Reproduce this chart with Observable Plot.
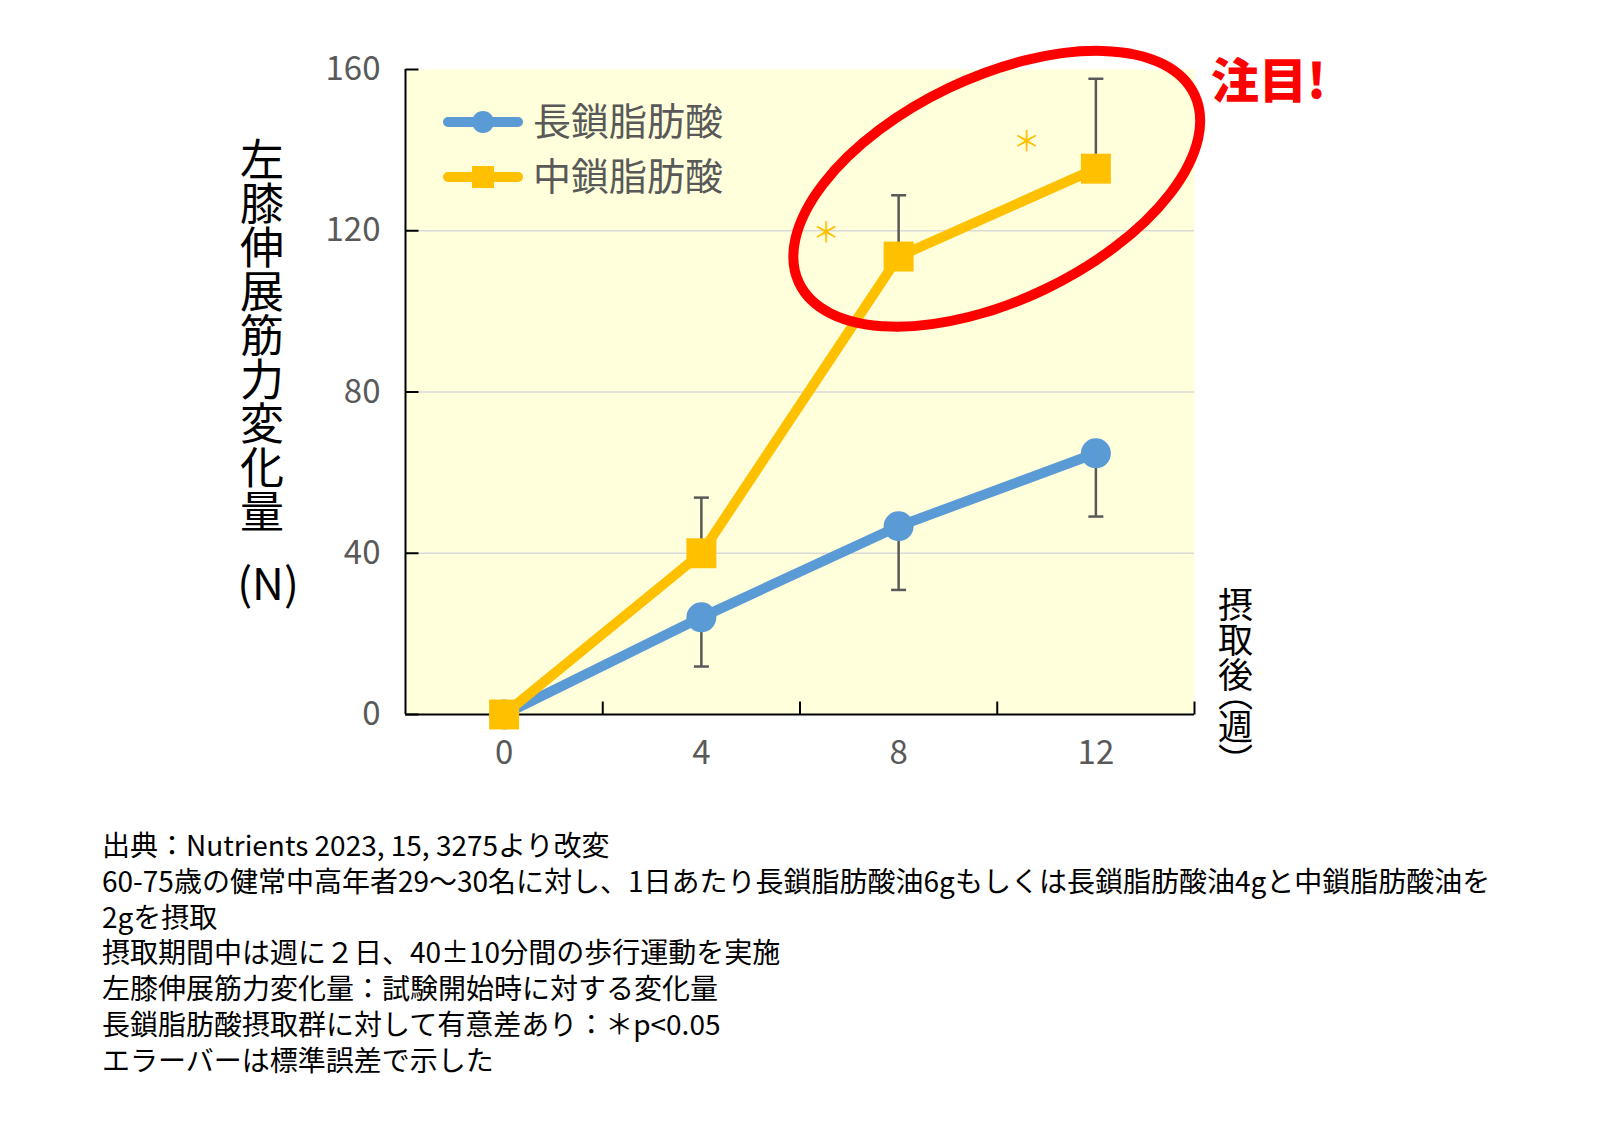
<!DOCTYPE html>
<html><head><meta charset="utf-8">
<script src="https://cdn.jsdelivr.net/npm/d3@7"></script>
<script src="https://cdn.jsdelivr.net/npm/@observablehq/plot@0.6"></script>
<style>
body{margin:0;background:#fff;font-family:'Noto Sans CJK JP','Noto Sans',sans-serif;}
#wrap{position:relative;width:1600px;height:1138px;overflow:hidden;background:#fff;}
#wrap svg.chart{position:absolute;left:0;top:0;}
.abs{position:absolute;white-space:nowrap;}
</style></head><body><div id="wrap"></div><script>
// ---- data ----
const weeks = [0, 4, 8, 12];
const lcfaMean = [0, 24.1, 46.7, 64.8];
const lcfaSE = [0, 12.2, 15.8, 15.7];
const mcfaMean = [0, 40.0, 113.6, 135.4];
const mcfaSE = [0, 13.8, 15.2, 22.3];
const seriesNames = ["長鎖脂肪酸", "中鎖脂肪酸"];
const seriesColors = ["#5B9BD5", "#FFC000"];
const yTicks = [0, 40, 80, 120, 160];
const gridValues = [40, 80, 120];
const xTickLabels = [0, 4, 8, 12];
const xTickMarks = [2, 6, 10, 14];
const xDomain = [-2, 14];
const yDomain = [0, 160];
const sigMarks = [{week: 6.53, value: 119.3}, {week: 10.6, value: 141.7}];
const highlight = {week: 10.0, value: 130.3, rx: 219, ry: 111.5, angle: -25.5};
const yTitle = "左膝伸展筋力変化量";
const yUnit = "(N)";
const xTitle = "摂取後（週）";
const calloutText = "注目!";
const captionLines = [
  "出典：Nutrients 2023, 15, 3275より改変",
  "60-75歳の健常中高年者29～30名に対し、1日あたり長鎖脂肪酸油6gもしくは長鎖脂肪酸油4gと中鎖脂肪酸油を",
  "2gを摂取",
  "摂取期間中は週に２日、40±10分間の歩行運動を実施",
  "左膝伸展筋力変化量：試験開始時に対する変化量",
  "長鎖脂肪酸摂取群に対して有意差あり：＊p<0.05",
  "エラーバーは標準誤差で示した"
];

// ---- build tables ----
const lcfaRows = weeks.map((w, i) => ({week: w, value: lcfaMean[i], se: lcfaSE[i]}));
const mcfaRows = weeks.map((w, i) => ({week: w, value: mcfaMean[i], se: mcfaSE[i]}));

const capSym = {draw(ctx) { ctx.moveTo(-7.5, 0); ctx.lineTo(7.5, 0); }};
const yTickSym = {draw(ctx) { ctx.moveTo(0, 0); ctx.lineTo(13, 0); }};
const xTickSym = {draw(ctx) { ctx.moveTo(0, 0); ctx.lineTo(0, -13); }};
const errColor = "#595959";
const labelColor = "#595959";

const chart = Plot.plot({
  width: 1600, height: 800,
  marginLeft: 405, marginRight: 406, marginTop: 69, marginBottom: 86,
  x: {domain: xDomain, axis: null},
  y: {domain: yDomain, axis: null},
  className: "chart",
  style: {fontFamily: "'Noto Sans CJK JP','Noto Sans',sans-serif", background: "transparent", overflow: "visible"},
  marks: [
    Plot.frame({fill: "#FFFFDC", stroke: null}),
    Plot.ruleY(gridValues, {stroke: "#D9D9D9", strokeWidth: 1.5}),
    Plot.ruleX([xDomain[0]], {stroke: "#000", strokeWidth: 2}),
    Plot.ruleY([yDomain[0]], {stroke: "#000", strokeWidth: 2}),
    Plot.dot(yTicks, {x: () => xDomain[0], y: d => d, symbol: yTickSym, r: 5, fill: "none", stroke: "#000", strokeWidth: 2}),
    Plot.dot(xTickMarks, {x: d => d, y: () => yDomain[0], symbol: xTickSym, r: 5, fill: "none", stroke: "#000", strokeWidth: 2}),
    Plot.text(yTicks, {x: () => xDomain[0], y: d => d, text: d => String(d), textAnchor: "end", dx: -25, fontSize: 33, fill: labelColor}),
    Plot.text(xTickLabels, {x: d => d, y: () => yDomain[0], text: d => String(d), dy: 39, fontSize: 33, fill: labelColor}),
    // error bars (LCFA: lower, MCFA: upper)
    Plot.ruleX(lcfaRows.filter(d => d.se > 0), {x: "week", y1: "value", y2: d => d.value - d.se, stroke: errColor, strokeWidth: 2.5}),
    Plot.dot(lcfaRows.filter(d => d.se > 0), {x: "week", y: d => d.value - d.se, symbol: capSym, r: 5, fill: "none", stroke: errColor, strokeWidth: 2.5}),
    Plot.ruleX(mcfaRows.filter(d => d.se > 0), {x: "week", y1: "value", y2: d => d.value + d.se, stroke: errColor, strokeWidth: 2.5}),
    Plot.dot(mcfaRows.filter(d => d.se > 0), {x: "week", y: d => d.value + d.se, symbol: capSym, r: 5, fill: "none", stroke: errColor, strokeWidth: 2.5}),
    // lines
    Plot.line(lcfaRows, {x: "week", y: "value", stroke: seriesColors[0], strokeWidth: 10, strokeLinejoin: "miter", strokeLinecap: "butt"}),
    Plot.dot(lcfaRows, {x: "week", y: "value", r: 15, fill: seriesColors[0], stroke: null}),
    Plot.line(mcfaRows, {x: "week", y: "value", stroke: seriesColors[1], strokeWidth: 10, strokeLinejoin: "miter", strokeLinecap: "butt"}),
    Plot.dot(mcfaRows, {x: "week", y: "value", r: 16.9, symbol: "square", fill: seriesColors[1], stroke: null}),
    Plot.text(sigMarks, {x: "week", y: "value", text: () => "＊", fontSize: 28, fill: seriesColors[1]})
  ]
});

const wrap = document.getElementById("wrap");
wrap.appendChild(chart);

// highlight ellipse placed via the chart's scales
const sx = chart.scale("x"), sy = chart.scale("y");
const xs = d3.scaleLinear(sx.domain, sx.range), ys = d3.scaleLinear(sy.domain, sy.range);
const cx = xs(highlight.week), cy = ys(highlight.value);
d3.select(chart).append("ellipse")
  .attr("cx", cx).attr("cy", cy)
  .attr("rx", highlight.rx).attr("ry", highlight.ry)
  .attr("transform", `rotate(${highlight.angle},${cx},${cy})`)
  .attr("fill", "none").attr("stroke", "#FF0000").attr("stroke-width", 10);

// legend
const leg = d3.select(chart).append("g").attr("font-size", 38).attr("fill", labelColor).attr("text-anchor", "start");
seriesNames.forEach((name, i) => {
  const y = 122 + i * 55;
  leg.append("line").attr("x1", 448).attr("x2", 518).attr("y1", y).attr("y2", y)
    .attr("stroke", seriesColors[i]).attr("stroke-width", 10).attr("stroke-linecap", "round");
  if (i === 0) leg.append("circle").attr("cx", 483).attr("cy", y).attr("r", 11).attr("fill", seriesColors[i]);
  else leg.append("rect").attr("x", 472).attr("y", y - 11).attr("width", 22).attr("height", 22).attr("fill", seriesColors[i]);
  leg.append("text").attr("x", 533).attr("y", y).attr("dy", "0.35em").attr("text-anchor", "start").text(name);
});

// titles and caption
function addDiv(html, style) {
  const d = document.createElement("div");
  d.className = "abs";
  d.setAttribute("style", style);
  d.textContent = html;
  wrap.appendChild(d);
  return d;
}
addDiv(yTitle, "left:240px;top:137px;writing-mode:vertical-rl;font-size:44px;line-height:44px;color:#000;");
addDiv(yUnit, "left:218px;width:100px;text-align:center;top:556px;font-size:44px;line-height:50px;color:#000;");
addDiv(xTitle, "left:1218px;top:587px;writing-mode:vertical-rl;font-size:35px;line-height:35px;color:#000;font-feature-settings:'vpal';");
addDiv(calloutText, "left:1211px;top:51px;font-size:48px;line-height:52px;font-weight:900;color:#FF0000;");
const cap = addDiv("", "left:102px;top:827px;font-size:28px;line-height:35.8px;color:#000;white-space:pre;");
cap.textContent = captionLines.join("\n");
</script></body></html>
